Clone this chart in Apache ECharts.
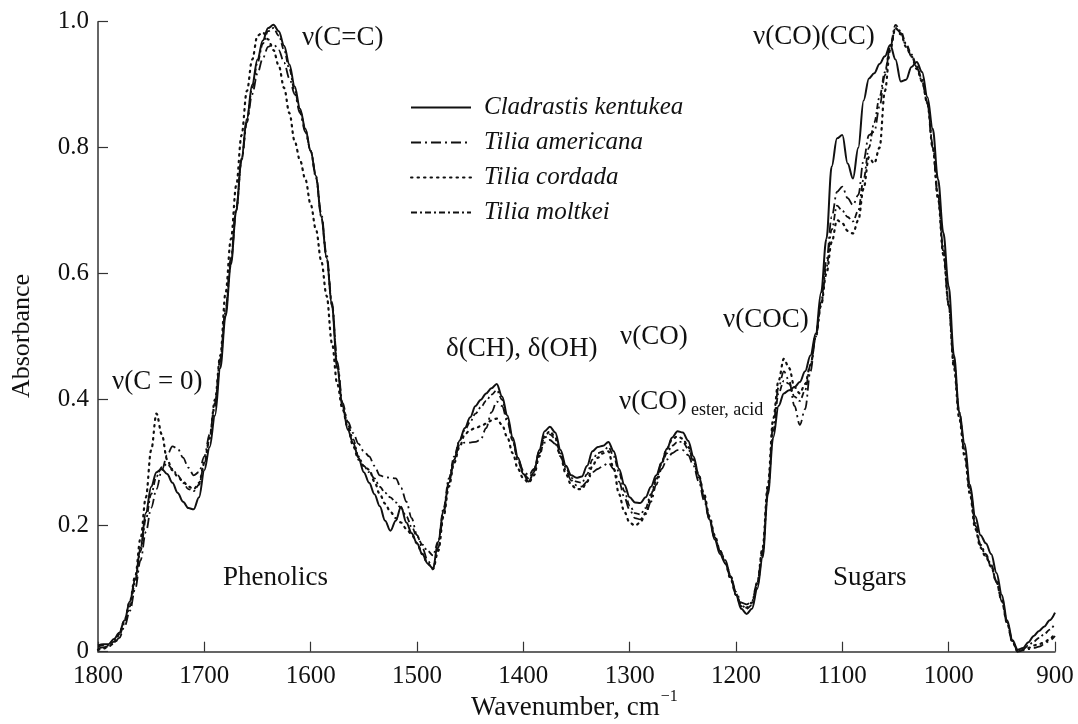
<!DOCTYPE html>
<html>
<head>
<meta charset="utf-8">
<script src="https://cdn.jsdelivr.net/npm/echarts@6/dist/echarts.min.js"></script>
<style>html,body{margin:0;padding:0;background:#fff}#chart{width:1078px;height:724px}</style>
</head>
<body>
<div id="chart"></div>
<script>
const wavenumbers = [
1800,1795,1790,1785,1780,1775,1770,1765,1760,1755,
1750,1745,1740,1735,1730,1725,1720,1715,1710,1705,
1700,1695,1690,1685,1680,1675,1670,1665,1660,1655,
1650,1645,1640,1635,1630,1625,1620,1615,1610,1605,
1600,1595,1590,1585,1580,1575,1570,1565,1560,1555,
1550,1545,1540,1535,1530,1525,1520,1515,1510,1505,
1500,1495,1490,1485,1480,1475,1470,1465,1460,1455,
1450,1445,1440,1435,1430,1425,1420,1415,1410,1405,
1400,1395,1390,1385,1380,1375,1370,1365,1360,1355,
1350,1345,1340,1335,1330,1325,1320,1315,1310,1305,
1300,1295,1290,1285,1280,1275,1270,1265,1260,1255,
1250,1245,1240,1235,1230,1225,1220,1215,1210,1205,
1200,1195,1190,1185,1180,1175,1170,1165,1160,1155,
1150,1145,1140,1135,1130,1125,1120,1115,1110,1105,
1100,1095,1090,1085,1080,1075,1070,1065,1060,1055,
1050,1045,1040,1035,1030,1025,1020,1015,1010,1005,
1000,995,990,985,980,975,970,965,960,955,
950,945,940,935,930,925,920,915,910,905,
900];

const cladrastisKentukea = [
0.010,0.012,0.012,0.020,0.030,0.050,0.080,0.115,0.165,0.220,
0.262,0.285,0.290,0.282,0.268,0.252,0.238,0.228,0.226,0.245,
0.288,0.325,0.375,0.450,0.533,0.615,0.700,0.783,0.845,0.900,
0.940,0.970,0.990,0.995,0.985,0.962,0.932,0.897,0.862,0.830,
0.795,0.755,0.690,0.625,0.550,0.450,0.390,0.352,0.331,0.308,
0.285,0.268,0.250,0.231,0.208,0.192,0.208,0.230,0.205,0.188,
0.172,0.155,0.140,0.132,0.175,0.225,0.268,0.305,0.335,0.355,
0.372,0.390,0.400,0.410,0.418,0.425,0.405,0.375,0.340,0.308,
0.282,0.270,0.285,0.320,0.350,0.357,0.348,0.320,0.295,0.280,
0.276,0.278,0.295,0.318,0.325,0.327,0.333,0.318,0.290,0.265,
0.245,0.237,0.236,0.245,0.262,0.280,0.300,0.322,0.340,0.350,
0.348,0.335,0.310,0.280,0.245,0.210,0.178,0.155,0.140,0.118,
0.090,0.068,0.060,0.068,0.100,0.150,0.250,0.340,0.390,0.410,
0.415,0.420,0.428,0.445,0.470,0.505,0.570,0.655,0.770,0.815,
0.820,0.775,0.751,0.800,0.875,0.910,0.918,0.933,0.945,0.963,
0.940,0.905,0.908,0.928,0.936,0.920,0.880,0.830,0.750,0.665,
0.580,0.470,0.380,0.330,0.265,0.215,0.185,0.172,0.155,0.125,
0.090,0.050,0.018,0.003,0.006,0.015,0.025,0.033,0.040,0.050,
0.062];

const tiliaAmericana = [
0.005,0.007,0.008,0.013,0.022,0.040,0.065,0.100,0.145,0.190,
0.228,0.258,0.288,0.312,0.326,0.322,0.308,0.292,0.280,0.285,
0.310,0.345,0.395,0.465,0.545,0.625,0.705,0.780,0.840,0.885,
0.918,0.942,0.960,0.965,0.955,0.935,0.910,0.885,0.855,0.825,
0.795,0.755,0.695,0.630,0.555,0.460,0.395,0.365,0.347,0.330,
0.318,0.310,0.295,0.280,0.277,0.276,0.275,0.260,0.238,0.212,
0.185,0.165,0.145,0.132,0.165,0.220,0.270,0.305,0.328,0.332,
0.332,0.333,0.337,0.355,0.380,0.397,0.390,0.365,0.335,0.305,
0.288,0.280,0.290,0.315,0.332,0.336,0.330,0.310,0.288,0.272,
0.264,0.262,0.270,0.285,0.290,0.295,0.300,0.290,0.270,0.245,
0.225,0.212,0.210,0.218,0.238,0.265,0.290,0.305,0.315,0.320,
0.320,0.312,0.295,0.270,0.240,0.210,0.180,0.160,0.145,0.120,
0.095,0.078,0.075,0.080,0.110,0.160,0.260,0.360,0.420,0.445,
0.430,0.390,0.360,0.385,0.445,0.500,0.555,0.620,0.690,0.730,
0.738,0.720,0.709,0.725,0.780,0.820,0.825,0.865,0.915,0.960,
0.990,0.982,0.962,0.945,0.928,0.905,0.870,0.800,0.720,0.635,
0.550,0.455,0.375,0.315,0.255,0.200,0.168,0.152,0.135,0.110,
0.080,0.045,0.015,0.000,0.002,0.004,0.006,0.008,0.012,0.018,
0.025];

const tiliaCordada = [
0.003,0.005,0.008,0.015,0.028,0.050,0.080,0.120,0.180,0.245,
0.320,0.378,0.345,0.305,0.288,0.278,0.270,0.262,0.258,0.268,
0.300,0.340,0.400,0.470,0.570,0.655,0.740,0.820,0.890,0.940,
0.978,0.983,0.972,0.955,0.930,0.895,0.855,0.810,0.780,0.750,
0.710,0.670,0.620,0.565,0.490,0.425,0.385,0.355,0.326,0.305,
0.295,0.289,0.270,0.250,0.235,0.222,0.212,0.205,0.195,0.186,
0.172,0.155,0.140,0.131,0.160,0.215,0.262,0.300,0.325,0.345,
0.352,0.355,0.358,0.362,0.367,0.370,0.360,0.340,0.315,0.290,
0.275,0.268,0.280,0.310,0.342,0.350,0.340,0.310,0.282,0.265,
0.258,0.258,0.270,0.295,0.308,0.315,0.318,0.290,0.250,0.222,
0.205,0.200,0.205,0.220,0.245,0.272,0.300,0.322,0.337,0.342,
0.338,0.325,0.305,0.280,0.250,0.215,0.185,0.160,0.140,0.115,
0.090,0.072,0.070,0.078,0.110,0.165,0.265,0.370,0.430,0.465,
0.450,0.420,0.410,0.425,0.455,0.500,0.550,0.600,0.650,0.685,
0.680,0.668,0.664,0.685,0.735,0.785,0.775,0.800,0.890,0.955,
0.990,0.980,0.960,0.945,0.925,0.905,0.870,0.800,0.720,0.630,
0.550,0.450,0.370,0.310,0.250,0.195,0.165,0.150,0.135,0.110,
0.080,0.045,0.015,0.000,0.003,0.006,0.010,0.012,0.015,0.020,
0.030];

const tiliaMoltkei = [
0.008,0.010,0.010,0.016,0.026,0.045,0.072,0.110,0.160,0.210,
0.250,0.278,0.293,0.298,0.290,0.280,0.268,0.258,0.255,0.265,
0.298,0.338,0.390,0.460,0.540,0.620,0.700,0.780,0.845,0.895,
0.935,0.965,0.985,0.990,0.978,0.955,0.925,0.890,0.858,0.828,
0.795,0.752,0.690,0.625,0.550,0.455,0.390,0.360,0.337,0.310,
0.295,0.285,0.275,0.262,0.252,0.245,0.237,0.228,0.215,0.198,
0.183,0.170,0.160,0.153,0.175,0.228,0.275,0.310,0.335,0.352,
0.365,0.378,0.388,0.398,0.408,0.415,0.400,0.370,0.335,0.302,
0.283,0.275,0.288,0.318,0.340,0.345,0.338,0.315,0.292,0.276,
0.270,0.268,0.282,0.305,0.315,0.318,0.325,0.310,0.285,0.255,
0.232,0.220,0.218,0.228,0.250,0.275,0.298,0.315,0.327,0.333,
0.333,0.322,0.302,0.276,0.245,0.212,0.182,0.160,0.145,0.120,
0.092,0.074,0.068,0.074,0.105,0.155,0.255,0.350,0.410,0.430,
0.425,0.405,0.398,0.415,0.455,0.500,0.550,0.610,0.670,0.708,
0.700,0.690,0.683,0.700,0.750,0.800,0.840,0.880,0.920,0.962,
0.995,0.985,0.965,0.948,0.930,0.908,0.872,0.805,0.725,0.640,
0.555,0.460,0.380,0.320,0.260,0.205,0.170,0.155,0.138,0.112,
0.082,0.047,0.017,0.000,0.004,0.010,0.016,0.022,0.028,0.035,
0.045];

const seriesNames = ['Cladrastis kentukea','Tilia americana','Tilia cordada','Tilia moltkei'];
const seriesValues = [cladrastisKentukea, tiliaAmericana, tiliaCordada, tiliaMoltkei];
const yTicks = [0, 0.2, 0.4, 0.6, 0.8, 1.0];
const xTicks = [1800,1700,1600,1500,1400,1300,1200,1100,1000,900];

const FONT = '"Liberation Serif", "Times New Roman", serif';
const INK = '#111';
const dashStyles = [
  {type: 'solid', width: 2},
  {type: [10, 4, 2, 4], width: 1.8},
  {type: [1.5, 5], width: 2.2, cap: 'round'},
  {type: [6, 3, 2, 3], width: 1.8}
];

const chart = echarts.init(document.getElementById('chart'), null, {renderer: 'canvas'});

const series = seriesNames.map((name, i) => ({
  name: name,
  type: 'line',
  data: wavenumbers.map((w, k) => [w, seriesValues[i][k]]),
  symbol: 'none',
  smooth: 0.35,
  smoothMonotone: 'x',
  lineStyle: Object.assign({color: INK}, dashStyles[i]),
  itemStyle: {color: INK},
  z: 3
}));

function txt(x, y, text, size, extra) {
  return Object.assign({
    type: 'text', x: x, y: y,
    style: {text: text, font: size + 'px ' + FONT, fill: INK, textAlign: 'left', textVerticalAlign: 'middle'}
  }, extra || {});
}

// measure the axis title so the superscript sits right after "cm"
const mctx = document.createElement('canvas').getContext('2d');
mctx.font = '27px ' + FONT;
const titleLeft = 471;
const titleWidth = mctx.measureText('Wavenumber, cm').width;

chart.setOption({
  animation: false,
  backgroundColor: '#fff',
  grid: {left: 98, right: 23, top: 21.7, bottom: 72.3, containLabel: false},
  xAxis: {
    type: 'value', inverse: true, min: 900, max: 1800, interval: 100,
    axisLine: {show: true, lineStyle: {color: '#333', width: 1.5}},
    axisTick: {show: true, inside: true, length: 10, lineStyle: {color: '#333', width: 1.2}},
    axisLabel: {color: INK, fontFamily: FONT, fontSize: 25, margin: 12,
      formatter: v => xTicks.indexOf(v) >= 0 ? String(v) : ''},
    splitLine: {show: false}
  },
  yAxis: {
    type: 'value', min: 0, max: 1, interval: 0.2,
    axisLine: {show: true, lineStyle: {color: '#333', width: 1.5}},
    axisTick: {show: true, inside: true, length: 10, lineStyle: {color: '#333', width: 1.2}},
    axisLabel: {color: INK, fontFamily: FONT, fontSize: 25, margin: 9,
      formatter: v => { const t = yTicks.find(q => Math.abs(q - v) < 1e-6); return t === 0 ? '0' : t.toFixed(1); }},
    splitLine: {show: false}
  },
  legend: {
    orient: 'vertical', left: 410, top: 95, padding: 0,
    itemWidth: 60, itemHeight: 14, itemGap: 10,
    itemStyle: {color: 'rgba(0,0,0,0)', borderWidth: 0, opacity: 0},
    textStyle: {color: INK, fontFamily: FONT, fontStyle: 'italic', fontSize: 25, padding: [0, 0, 0, 8]},
    data: seriesNames
  },
  series: series,
  graphic: [
    txt(302, 38, 'ν(C=C)', 27),
    txt(753, 37, 'ν(CO)(CC)', 27),
    txt(112, 382, 'ν(C = 0)', 27),
    txt(223, 578, 'Phenolics', 27),
    txt(446, 349, 'δ(CH), δ(OH)', 27),
    txt(620, 337, 'ν(CO)', 27),
    txt(723, 320, 'ν(COC)', 27),
    txt(619, 402, 'ν(CO)', 27),
    txt(691, 410, 'ester, acid', 18),
    txt(833, 578, 'Sugars', 27),
    txt(titleLeft, 708, 'Wavenumber, cm', 27),
    txt(titleLeft + titleWidth + 1, 697, '−1', 16),
    {type: 'text', x: 22, y: 336, rotation: Math.PI / 2,
     style: {text: 'Absorbance', font: '26px ' + FONT, fill: INK, textAlign: 'center', textVerticalAlign: 'middle'}}
  ]
});
</script>
</body>
</html>
